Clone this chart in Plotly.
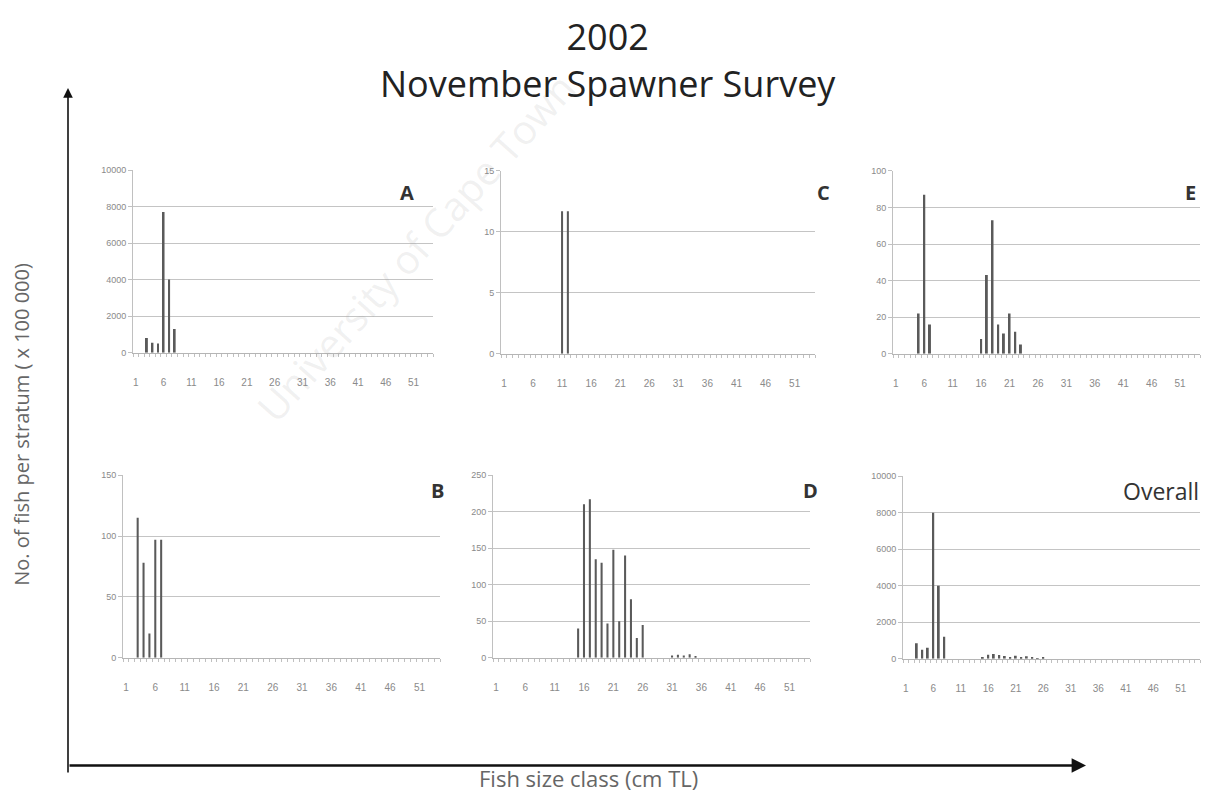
import plotly.graph_objects as go

W, H = 1217, 796
OFF = 8  # page body margin

# ---------------- data ----------------
tick_classes = [1, 6, 11, 16, 21, 26, 31, 36, 41, 46, 51]

a_classes = [3, 4, 5, 6, 7, 8]
a_values = [800, 550, 500, 7700, 4000, 1300]

b_classes = [3, 4, 5, 6, 7]
b_values = [115, 78, 20, 97, 97]

c_classes = [11, 12]
c_values = [11.7, 11.7]

d_classes = [15, 16, 17, 18, 19, 20, 21, 22, 23, 24, 25, 26, 31, 32, 33, 34, 35]
d_values = [40, 210, 217, 135, 130, 47, 148, 50, 140, 80, 27, 45, 3, 4, 3, 5, 2]

e_classes = [5, 6, 7, 16, 17, 18, 19, 20, 21, 22, 23]
e_values = [22, 87, 16, 8, 43, 73, 16, 11, 22, 12, 5]

overall_classes = [3, 4, 5, 6, 7, 8, 15, 16, 17, 18, 19, 20, 21, 22, 23, 24, 25, 26]
overall_values = [850, 500, 600, 8000, 4000, 1200, 40, 220, 260, 210, 150, 60, 170, 60, 145, 80, 27, 45]

panel_names = ["A", "C", "E", "B", "D", "Overall"]
panel_ymax = [10000, 15, 100, 150, 250, 10000]
panel_dtick = [2000, 5, 20, 50, 50, 2000]
panel_data = [
    (a_classes, a_values),
    (c_classes, c_values),
    (e_classes, e_values),
    (b_classes, b_values),
    (d_classes, d_values),
    (overall_classes, overall_values),
]

# plot-area pixel boxes (left, right, top, bottom)
boxes = [
    (133, 433, 167, 352),
    (501, 815, 168, 353),
    (893, 1200, 168, 353),
    (123, 440, 476, 661),
    (493, 810, 476, 661),
    (903, 1200, 477, 662),
]
label_pos = [(407, 190), (823, 190), (1190, 190), (437, 492), (810, 492), (1161, 492)]


def px(x):
    return (x - OFF) / W


def py(y):
    return 1 - (y - OFF) / H


fig = go.Figure()
layout = dict(
    width=W, height=H,
    margin=dict(l=0, r=0, t=0, b=0),
    paper_bgcolor="white", plot_bgcolor="white",
    showlegend=False,
    font=dict(family="Liberation Sans, Arial, sans-serif", color="#888"),
)

for i, ((cls, vals), ymax, dt, box) in enumerate(zip(panel_data, panel_ymax, panel_dtick, boxes)):
    n = i + 1
    xa = "x" if n == 1 else f"x{n}"
    ya = "y" if n == 1 else f"y{n}"
    fig.add_trace(go.Bar(x=cls, y=vals, xaxis=xa, yaxis=ya, width=0.35,
                         marker=dict(color="#5a5a5a", line=dict(width=0))))
    l, r, t, b = box
    layout["xaxis" if n == 1 else f"xaxis{n}"] = dict(
        domain=[px(l), px(r)], anchor=ya, range=[0.5, 54.5],
        tickvals=tick_classes, ticktext=[str(v) for v in tick_classes],
        ticks="", showgrid=False, showline=True, linecolor="#b5b5b5", linewidth=1,
        tickfont=dict(size=10, color="#8a8a8a"), ticklabelstandoff=20,
        minor=dict(ticks="outside", ticklen=3, dtick=1, tick0=0.5, tickcolor="#c0c0c0"),
        zeroline=False, fixedrange=True,
    )
    layout["yaxis" if n == 1 else f"yaxis{n}"] = dict(
        domain=[py(b), py(t)], anchor=xa, range=[0, ymax],
        dtick=dt, tick0=0, tickformat="d", showgrid=True, gridcolor="#c4c4c4", gridwidth=1,
        showline=True, linecolor="#c0c0c0", linewidth=1,
        ticks="outside", ticklen=4, tickcolor="#c0c0c0",
        tickfont=dict(size=9, color="#8a8a8a"), zeroline=False, fixedrange=True,
    )

annotations = []
for name, (lx, ly) in zip(panel_names, label_pos):
    annotations.append(dict(
        x=px(lx), y=py(ly), xref="paper", yref="paper", showarrow=False,
        text=name if name == "Overall" else f"<b>{name}</b>",
        xanchor="center", yanchor="middle",
        font=dict(size=23 if name == "Overall" else 20, color="#333",
                  family="Open Sans, Liberation Sans, sans-serif"),
    ))

# title (two lines)
annotations.append(dict(x=px(608), y=py(56), xref="paper", yref="paper", showarrow=False,
                        text="2002<br>November Spawner Survey", xanchor="center", yanchor="middle",
                        align="center",
                        font=dict(size=36, color="#222", family="Open Sans, sans-serif")))
annotations.append(dict(x=px(22), y=py(425), xref="paper", yref="paper", showarrow=False,
                        text="No. of fish per stratum ( x 100 000)", textangle=-90,
                        xanchor="center", yanchor="middle",
                        font=dict(size=20, color="#666", family="Open Sans, sans-serif")))
annotations.append(dict(x=px(588), y=py(783), xref="paper", yref="paper", showarrow=False,
                        text="Fish size class (cm TL)", xanchor="center", yanchor="middle",
                        font=dict(size=22, color="#666", family="Open Sans, sans-serif")))

# big axis arrows
annotations.append(dict(x=px(68), y=py(84), xref="paper", yref="paper", ax=0, ay=686,
                        axref="pixel", ayref="pixel", showarrow=True, arrowhead=2,
                        arrowsize=1.2, arrowwidth=1.6, arrowcolor="#111", text=""))
annotations.append(dict(x=px(1086), y=py(770), xref="paper", yref="paper", ax=-1018, ay=0,
                        axref="pixel", ayref="pixel", showarrow=True, arrowhead=2,
                        arrowsize=1.2, arrowwidth=2.4, arrowcolor="#111", text=""))

# faint watermark
annotations.append(dict(x=px(415), y=py(245), xref="paper", yref="paper", showarrow=False,
                        text="University of Cape Town", textangle=-48,
                        xanchor="center", yanchor="middle",
                        font=dict(size=40, color="rgba(150,150,150,0.14)",
                                  family="Open Sans, sans-serif")))

layout["annotations"] = annotations
fig.update_layout(**layout)
fig.write_html("out.html")
